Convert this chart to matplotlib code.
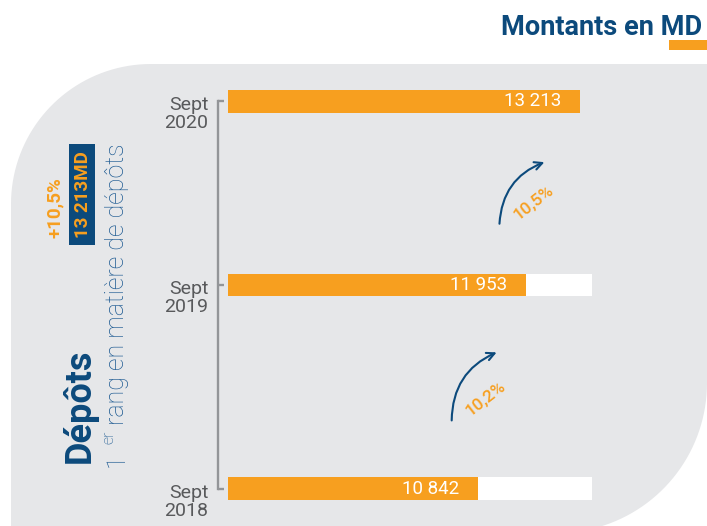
import numpy as np
import matplotlib
matplotlib.use("Agg")
import matplotlib.pyplot as plt
import matplotlib.transforms as mtransforms
from matplotlib.patches import Polygon, Rectangle

plt.rcParams['font.family'] = ['Roboto', 'DejaVu Sans']

# ---------------- data ----------------
categories = ["Sept\n2018", "Sept\n2019", "Sept\n2020"]
values = [10842, 11953, 13213]
title_text = "Montants en MD"
side_title = "Dépôts"
side_sub_sup = "er"
side_sub_rest = "rang en matière de dépôts"
side_sub_rank = "1"
unit = "MD"

# ---------------- layout / style ----------------
row_pos = [0, 1.05, 2]
ORANGE = "#f79f1f"
BLUE = "#0c4a7c"
SUBBLUE = "#1d5a92"
BG = "#e6e7e9"
GREY_TXT = "#58595b"
GREY_LINE = "#939598"
W, H = 707, 526


def fmt_num(v):
    return f"{v:,}".replace(",", " ")


def fmt_pct(p):
    return f"{p:.1f}".replace(".", ",") + "%"


growth = [(values[i + 1] / values[i] - 1) * 100 for i in range(len(values) - 1)]

fig = plt.figure(figsize=(W / 100, H / 100), dpi=100)
fig.patch.set_facecolor("white")

# background decoration axes in pixel coordinates
bg = fig.add_axes([0, 0, 1, 1], zorder=0)
bg.set_xlim(0, W)
bg.set_ylim(H, 0)
bg.axis("off")

# rounded grey panel
pts = [(11, 540), (11, 204)]
for t in np.linspace(np.pi, np.pi / 2, 40):
    pts.append((151 + 140 * np.cos(t), 204 - 140 * np.sin(t)))
pts.append((W + 5, 64))
pts.append((W + 5, 383))
pts.append((707, 383))
for t in np.linspace(0, -np.pi / 2, 40):
    pts.append((557 + 150 * np.cos(t), 383 - 150 * np.sin(t)))
pts.append((11, 540))
bg.add_patch(Polygon(pts, closed=True, facecolor=BG, edgecolor="none"))

# title and underline
bg.text(702, 35, title_text, ha="right", va="baseline", fontsize=19.5,
        fontweight="bold", color=BLUE)
bg.add_patch(Rectangle((669, 40), 40, 10, facecolor=ORANGE, edgecolor="none"))

# left side rotated texts
bg.text(80, 463, side_title, rotation=90, ha="center", va="bottom",
        fontsize=26, fontweight="bold", color=BLUE)
bg.text(117, 467, side_sub_rank, rotation=90, ha="center", va="bottom",
        fontsize=18, fontweight="light", color=SUBBLUE)
bg.text(108.5, 444, side_sub_sup, rotation=90, ha="center", va="bottom",
        fontsize=11.5, fontweight="light", color=SUBBLUE)
bg.text(117, 425, side_sub_rest, rotation=90, ha="center", va="bottom",
        fontsize=18, fontweight="light", color=SUBBLUE)
bg.add_patch(Rectangle((69, 144), 26, 101, facecolor=BLUE, edgecolor="none"))
bg.text(82.5, 195, fmt_num(values[-1]) + unit, rotation=90, ha="center",
        va="center", fontsize=13.5, fontweight="bold", color=ORANGE)
bg.text(55, 208, "+" + fmt_pct(growth[-1]), rotation=90, ha="center",
        va="center", fontsize=13.5, fontweight="bold", color=ORANGE)

# main chart axes
x0, x1 = 5020, 13485
px_left, px_right = 228, 592
ylo, yhi = -0.11, 2.11
py_bottom = 488.5 + 0.11 * 193.5
py_top = 101.5 - 0.11 * 193.5
ax = fig.add_axes([px_left / W, (H - py_bottom) / H, (px_right - px_left) / W,
                   (py_bottom - py_top) / H], zorder=2)
ax.set_facecolor("none")
ax.set_xlim(x0, x1)
ax.set_ylim(ylo, yhi)

bar_h = 0.115
vmax = max(values)
for p, v in zip(row_pos, values):
    if v < vmax:
        ax.barh(p, x1, height=bar_h, color="white", zorder=1)
ax.barh(row_pos, values, height=bar_h, color=ORANGE, zorder=2)

for p, v in zip(row_pos, values):
    ax.annotate(fmt_num(v), xy=(v, p), xytext=(-19, 0), textcoords="offset pixels",
                ha="right", va="center", fontsize=13.5, fontweight="normal",
                color="white", zorder=3)

# growth arrows
for i, g in enumerate(growth):
    lo, hi = row_pos[i], row_pos[i + 1]
    gap = hi - lo
    start = (values[i] - 620, lo + 0.335 * gap)
    end = (values[i] + 425, lo + 0.67 * gap)
    ax.annotate("", xy=end, xytext=start,
                arrowprops=dict(arrowstyle="->", connectionstyle="arc3,rad=-0.32",
                                color=BLUE, lw=1.5, shrinkA=0, shrinkB=0,
                                mutation_scale=14))
    ax.annotate(fmt_pct(g), xy=start, xytext=(34, 22), textcoords="offset pixels",
                ha="center", va="center", rotation=38, fontsize=12.5,
                fontweight="medium", color=ORANGE)

# bracket axis
for s in ["top", "right", "bottom"]:
    ax.spines[s].set_visible(False)
ax.spines["left"].set_position(("outward", 7))
ax.spines["left"].set_bounds(row_pos[0], row_pos[-1])
ax.spines["left"].set_color(GREY_LINE)
ax.spines["left"].set_linewidth(1.7)
ax.set_xticks([])
ax.set_yticks(row_pos)
ax.set_yticklabels(categories, fontsize=14, color=GREY_TXT, linespacing=1.0,
                   ha="right")
ax.tick_params(axis="y", direction="in", length=4.5, width=1.7,
               color=GREY_LINE, pad=7)
offset = mtransforms.ScaledTranslation(0, -0.11, fig.dpi_scale_trans)
for lab in ax.get_yticklabels():
    lab.set_transform(lab.get_transform() + offset)

fig.savefig("out.png", dpi=100, facecolor="white")
